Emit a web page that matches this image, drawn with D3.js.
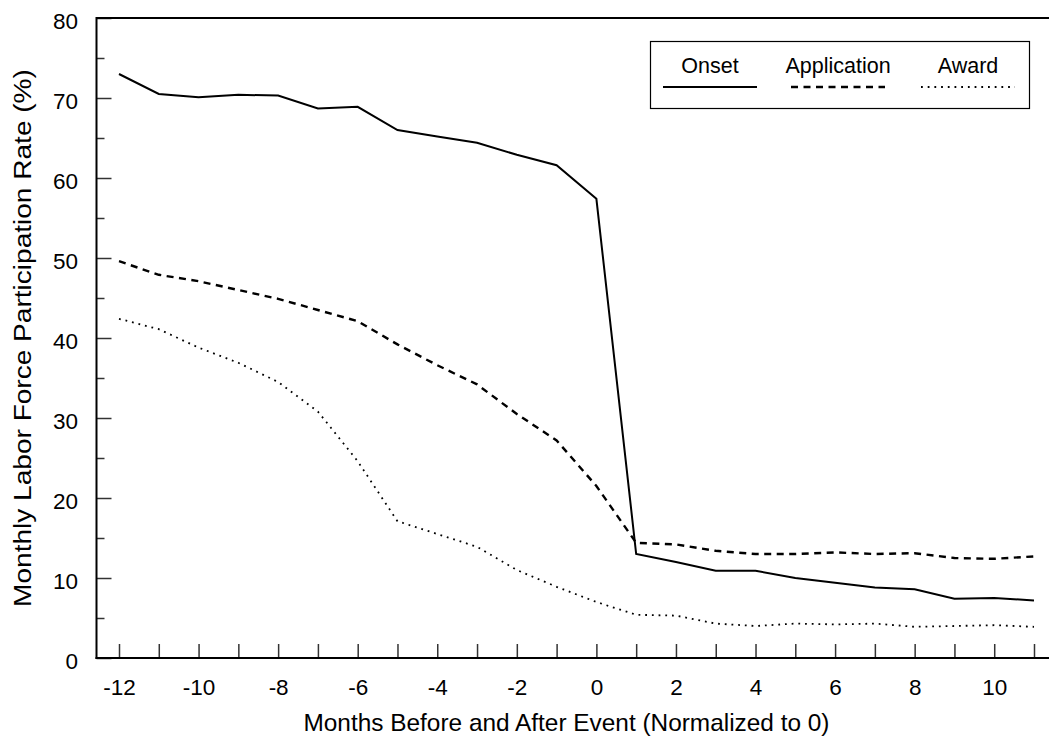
<!DOCTYPE html>
<html>
<head>
<meta charset="utf-8">
<script src="https://cdnjs.cloudflare.com/ajax/libs/d3/7.8.5/d3.min.js"></script>
<style>
  body { margin: 0; background: #fff; }
  text { font-family: "Liberation Sans", Arial, sans-serif; fill: #000; }
</style>
</head>
<body>
<div id="container"></div>
<script>
// Months relative to the event
var months = d3.range(-12, 12);

// Series values (%)
var onset = [73.0, 70.5, 70.1, 70.4, 70.3, 68.7, 68.9, 66.0, 65.2, 64.4, 62.9, 61.6,
             57.4, 13.0, 12.0, 10.9, 10.9, 10.0, 9.4, 8.8, 8.6, 7.4, 7.5, 7.2];
var application = [49.6, 47.9, 47.1, 46.0, 44.9, 43.5, 42.1, 39.2, 36.6, 34.2, 30.5, 27.2,
                   21.5, 14.4, 14.2, 13.4, 13.0, 13.0, 13.2, 13.0, 13.1, 12.5, 12.4, 12.7];
var award = [42.4, 41.1, 38.8, 36.9, 34.5, 30.8, 24.6, 17.1, 15.5, 13.9, 11.0, 8.9,
             7.0, 5.4, 5.3, 4.3, 4.0, 4.3, 4.2, 4.3, 3.9, 4.0, 4.1, 3.9];

var seriesNames = ['Onset', 'Application', 'Award'];
var yMajorTicks = [0, 10, 20, 30, 40, 50, 60, 70, 80];
var yMinorTicks = [5, 15, 25, 35, 45, 55, 65, 75];

var WIDTH = 1050,
    HEIGHT = 745;

var plotLeft = 96.5, plotRight = 1049, plotTop = 18, plotBottom = 658;

var svg = d3.select('#container')
    .append('svg')
    .attr('width', WIDTH)
    .attr('height', HEIGHT);

var x = d3.scaleLinear().domain([-12, 11]).range([119, 1034]);
var y = d3.scaleLinear().domain([0, 80]).range([plotBottom, plotTop]);

// y axis, major ticks with labels
var yAxis = svg.append('g')
    .attr('transform', 'translate(' + plotLeft + ',0)')
    .call(d3.axisLeft(y).tickValues(yMajorTicks).tickSize(-15).tickPadding(18.5));
yAxis.select('.domain').remove();
yAxis.selectAll('.tick line').attr('stroke', '#333').attr('stroke-width', 1.5);
yAxis.selectAll('.tick text').style('font-size', '22.5px').attr('dy', '0.46em');

// y axis, minor ticks
var yMinor = svg.append('g')
    .attr('transform', 'translate(' + plotLeft + ',0)')
    .call(d3.axisLeft(y).tickValues(yMinorTicks).tickSize(-8).tickFormat(''));
yMinor.select('.domain').remove();
yMinor.selectAll('.tick line').attr('stroke', '#333').attr('stroke-width', 1.5);

// x axis, a tick every month, labels on even months
var xAxis = svg.append('g')
    .attr('transform', 'translate(0,' + plotBottom + ')')
    .call(d3.axisBottom(x)
        .tickValues(months)
        .tickSize(-14)
        .tickPadding(21)
        .tickFormat(function(d) { return d % 2 === 0 ? d : ''; }));
xAxis.select('.domain').remove();
xAxis.selectAll('.tick line').attr('stroke', '#333').attr('stroke-width', 1.5);
xAxis.selectAll('.tick text').style('font-size', '22.5px');

// frame: top line and the two axis lines
svg.append('line')
    .attr('x1', plotLeft).attr('x2', plotRight)
    .attr('y1', plotTop).attr('y2', plotTop)
    .attr('stroke', '#000').attr('stroke-width', 2);
svg.append('line')
    .attr('x1', plotLeft).attr('x2', plotLeft)
    .attr('y1', plotTop - 1).attr('y2', plotBottom + 1)
    .attr('stroke', '#000').attr('stroke-width', 2);
svg.append('line')
    .attr('x1', plotLeft - 1).attr('x2', plotRight)
    .attr('y1', plotBottom).attr('y2', plotBottom)
    .attr('stroke', '#000').attr('stroke-width', 2);

// lines
var styles = [
    { values: onset, dash: null, width: 2 },
    { values: application, dash: '7,5.5', width: 2.4 },
    { values: award, dash: '1.8,4.9', width: 1.8 }
];

var line = d3.line()
    .x(function(d) { return x(d[0]); })
    .y(function(d) { return y(d[1]); });

styles.forEach(function(s) {
    svg.append('path')
        .datum(months.map(function(m, i) { return [m, s.values[i]]; }))
        .attr('d', line)
        .attr('fill', 'none')
        .attr('stroke', '#000')
        .attr('stroke-width', s.width)
        .attr('stroke-dasharray', s.dash);
});

// axis titles
svg.append('text')
    .attr('x', 566.5).attr('y', 731)
    .attr('text-anchor', 'middle')
    .style('font-size', '24.4px')
    .text('Months Before and After Event (Normalized to 0)');

// the y title is drawn longer than it is tall in the original
svg.append('text')
    .attr('transform', 'translate(31,338) rotate(-90) scale(1.15,1)')
    .attr('text-anchor', 'middle')
    .style('font-size', '24.4px')
    .text('Monthly Labor Force Participation Rate (%)');

// legend
var legend = svg.append('g');
legend.append('rect')
    .attr('x', 650.5).attr('y', 41.5)
    .attr('width', 379).attr('height', 67)
    .attr('fill', '#fff')
    .attr('stroke', '#000').attr('stroke-width', 1.2);

var legendX = [710, 838, 968];
seriesNames.forEach(function(name, i) {
    legend.append('text')
        .attr('x', legendX[i]).attr('y', 73)
        .attr('text-anchor', 'middle')
        .style('font-size', '21.5px')
        .text(name);
    legend.append('line')
        .attr('x1', legendX[i] - 47).attr('x2', legendX[i] + 47)
        .attr('y1', 87).attr('y2', 87)
        .attr('stroke', '#000')
        .attr('stroke-width', styles[i].width)
        .attr('stroke-dasharray', styles[i].dash);
});
</script>
</body>
</html>
